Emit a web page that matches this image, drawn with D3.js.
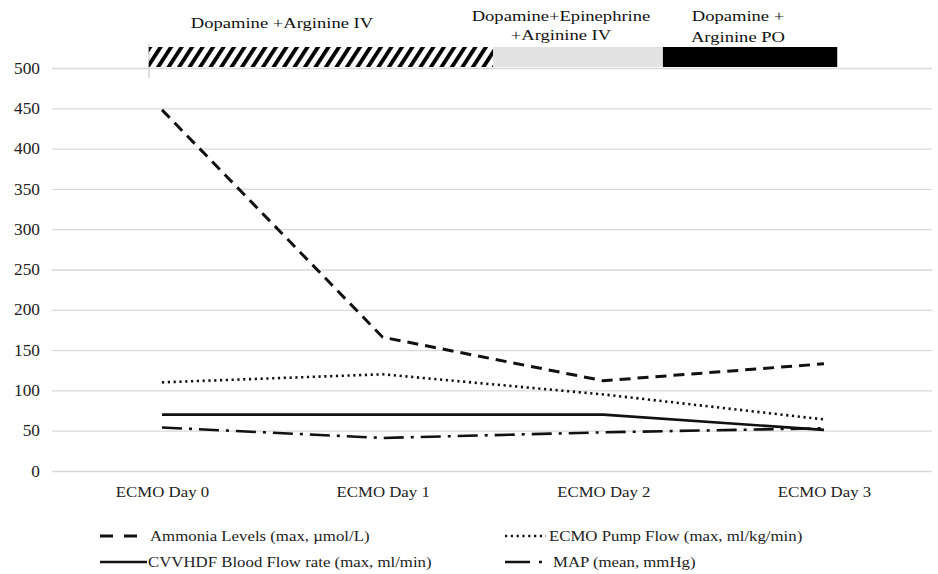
<!DOCTYPE html>
<html><head><meta charset="utf-8">
<script src="https://cdn.jsdelivr.net/npm/d3@7"></script>
<style>body{margin:0;background:#fff}svg{display:block;font-family:"Liberation Serif","Times New Roman",serif}</style>
</head><body>
<svg id="c" width="938" height="574"></svg>
<script>
const categories = ["ECMO Day 0","ECMO Day 1","ECMO Day 2","ECMO Day 3"];
const ammonia = [448, 166, 112, 133];
const pumpFlow = [110, 120, 95, 64];
const cvvhdf = [70, 70, 70, 51];
const mapMean = [54, 41, 48, 53];
const yTicks = [0,50,100,150,200,250,300,350,400,450,500];
const seriesNames = ["Ammonia Levels (max, µmol/L)","ECMO Pump Flow (max, ml/kg/min)","CVVHDF Blood Flow rate (max, ml/min)","MAP (mean, mmHg)"];
const phaseLabels = [["Dopamine +Arginine IV"],["Dopamine+Epinephrine","+Arginine IV"],["Dopamine +","Arginine PO"]];
const phaseStart = [-0.06, 1.5, 2.27];
const phaseEnd = [1.5, 2.27, 3.06];

const svg = d3.select("#c");
const x = d3.scalePoint().domain(categories).range([162, 824]);
const step = x.step();
const pos = v => x(categories[0]) + v*step;
const y = d3.scaleLinear().domain([0,500]).range([471,68]);

function stretchText(sel, sx){
  sel.each(function(){
    const t = d3.select(this);
    const x0 = +t.attr("x") || 0, y0 = +t.attr("y") || 0;
    t.attr("transform", `translate(${x0},${y0}) scale(${sx},1) translate(${-x0},${-y0})`);
  });
}

const defs = svg.append("defs");
const pat = defs.append("pattern").attr("id","hatch").attr("patternUnits","userSpaceOnUse")
  .attr("width",8.8).attr("height",8.8).attr("patternTransform","rotate(33)");
pat.append("rect").attr("width",3.8).attr("height",8.8).attr("fill","#000");

// gridlines + y ticks
const yAxis = d3.axisLeft(y).tickValues(yTicks).tickSize(-(932-52)).tickPadding(12);
const gy = svg.append("g").attr("transform","translate(52,0)").call(yAxis);
gy.select(".domain").remove();
gy.selectAll(".tick line").attr("stroke","#d9d9d9").attr("stroke-width",1.3);
gy.selectAll(".tick text").attr("font-size",16).attr("fill","#222").attr("font-family","Liberation Serif")
  .call(stretchText, 1.08);

// x labels
const xAxis = d3.axisBottom(x).tickSize(0).tickPadding(16);
const gx = svg.append("g").attr("transform","translate(0,471)").call(xAxis);
gx.select(".domain").remove();
gx.selectAll(".tick text").attr("font-size",14).attr("fill","#222").attr("font-family","Liberation Serif")
  .call(stretchText, 1.2);

// phase bars
svg.append("line").attr("x1",149).attr("x2",149).attr("y1",44).attr("y2",78).attr("stroke","#cfcfcf").attr("stroke-width",1.3);
const fills = ["url(#hatch)", "#e2e2e2", "#000"];
phaseStart.forEach((s,i)=>{
  const x0 = pos(s), x1 = pos(phaseEnd[i]);
  svg.append("rect").attr("x",x0).attr("y",47).attr("width",x1-x0).attr("height",20).attr("fill",fills[i]);
});
const labelPos = [{cx:282, ys:[28]}, {cx:561, ys:[21,40]}, {cx:738, ys:[21,42]}];
phaseLabels.forEach((lines,i)=>{
  lines.forEach((t,j)=>{
    svg.append("text").attr("x",labelPos[i].cx).attr("y",labelPos[i].ys[j]).attr("text-anchor","middle")
      .attr("font-size",15).attr("fill","#111").text(t).call(stretchText, 1.24);
  });
});

// lines
const styles = [
  {data:ammonia, dash:"11,7", w:3},
  {data:pumpFlow, dash:"2.2,3.6", w:2.6},
  {data:cvvhdf, dash:null, w:2.6},
  {data:mapMean, dash:"20,7,3,7", w:2.6}
];
const line = d3.line().x((d,i)=>x(categories[i])).y(d=>y(d));
styles.forEach(s=>{
  svg.append("path").datum(s.data).attr("d",line).attr("fill","none").attr("stroke","#111")
    .attr("stroke-width",s.w).attr("stroke-dasharray",s.dash);
});

// legend
const leg = [
  {lx:[100,137], dash:"13,11", tx:150, y:536},
  {lx:[505,546], dash:"2.2,3.6", tx:549, y:536},
  {lx:[100,147], dash:null, tx:148, y:562},
  {lx:[505,544], dash:"25,9,3,20", tx:553, y:562}
];
leg.forEach((l,i)=>{
  svg.append("line").attr("x1",l.lx[0]).attr("x2",l.lx[1]).attr("y1",l.y).attr("y2",l.y)
    .attr("stroke","#111").attr("stroke-width",styles[i].w).attr("stroke-dasharray",l.dash);
  svg.append("text").attr("x",l.tx).attr("y",l.y+5).attr("font-size",14).attr("fill","#222")
    .text(seriesNames[i]).call(stretchText, 1.2);
});
</script>
</body></html>
